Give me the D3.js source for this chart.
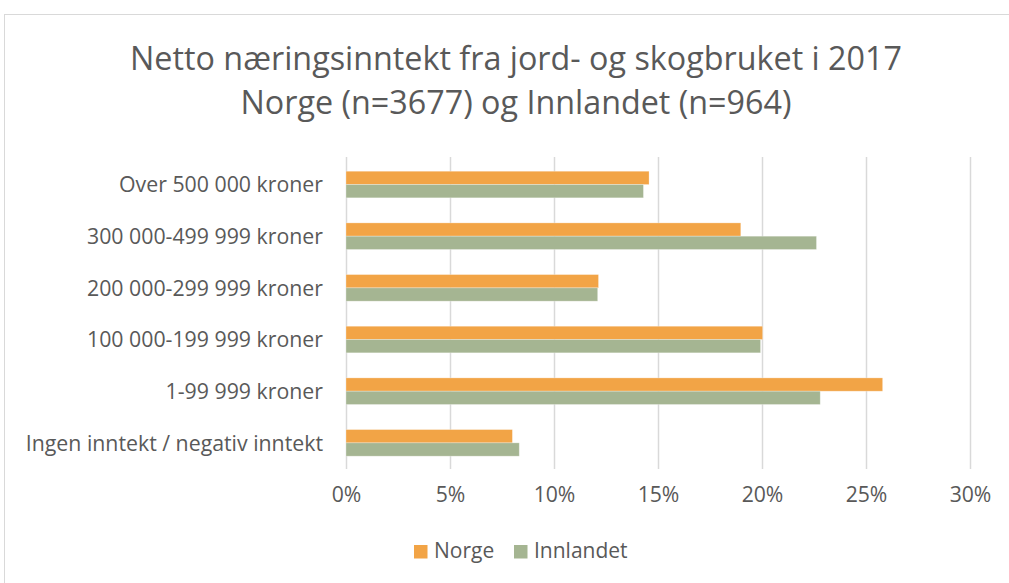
<!DOCTYPE html>
<html>
<head>
<meta charset="utf-8">
<script src="https://cdn.jsdelivr.net/npm/d3@7"></script>
<style>
  html, body { margin: 0; padding: 0; background: #fff; }
  svg { display: block; font-family: "Open Sans", sans-serif; }
</style>
</head>
<body>
<svg id="chart" width="1009" height="583"></svg>
<script>
const categories = [
  "Over 500 000 kroner",
  "300 000-499 999 kroner",
  "200 000-299 999 kroner",
  "100 000-199 999 kroner",
  "1-99 999 kroner",
  "Ingen inntekt / negativ inntekt"
];
const seriesNames = ["Norge", "Innlandet"];
const norge = [0.1457, 0.1898, 0.1214, 0.2003, 0.2580, 0.0800];
const innlandet = [0.1430, 0.2262, 0.1210, 0.1993, 0.2280, 0.0833];
const xTicks = [0, 0.05, 0.10, 0.15, 0.20, 0.25, 0.30];
const titleLines = [
  "Netto næringsinntekt fra jord- og skogbruket i 2017",
  "Norge (n=3677) og Innlandet (n=964)"
];
const colors = { "Norge": "#F2A446", "Innlandet": "#A5B592" };

const data = categories.map((c, i) => ({ cat: c, Norge: norge[i], Innlandet: innlandet[i] }));

const svg = d3.select("#chart");
const textColor = "#595959";

// chart border
svg.append("rect")
  .attr("x", 4.5).attr("y", 14.5)
  .attr("width", 1020).attr("height", 600)
  .attr("fill", "#fff").attr("stroke", "#D9D9D9").attr("stroke-width", 1);

// title
svg.append("g").selectAll("text").data(titleLines).join("text")
  .attr("x", 516).attr("y", (d, i) => 70 + i * 43.5)
  .attr("text-anchor", "middle")
  .attr("fill", textColor)
  .attr("font-size", 32.3)
  .text(d => d);

const x = d3.scaleLinear().domain([0, 0.30]).range([346, 970]);
const y0 = d3.scaleBand().domain(categories).range([158.7, 468.7])
  .paddingInner(0.485).paddingOuter(0.2425);
const y1 = d3.scaleBand().domain(seriesNames).range([0, y0.bandwidth()]);

// gridlines
svg.append("g").selectAll("line").data(xTicks).join("line")
  .attr("x1", d => Math.round(x(d)) + 0.5).attr("x2", d => Math.round(x(d)) + 0.5)
  .attr("y1", 157).attr("y2", 469)
  .attr("stroke", "#D9D9D9").attr("stroke-width", 1.5);

// x axis labels
const xAxis = d3.axisBottom(x).tickValues(xTicks).tickFormat(d3.format(".0%")).tickSize(0).tickPadding(0);
const gx = svg.append("g").attr("transform", "translate(0,487)").call(xAxis);
gx.select(".domain").remove();
gx.selectAll("text").attr("fill", textColor).attr("font-size", 21.2)
  .attr("font-family", "'Open Sans', sans-serif").attr("dy", "0.71em");

// y axis labels
const yAxis = d3.axisLeft(y0).tickSize(0).tickPadding(0);
const gy = svg.append("g").attr("transform", "translate(323,0)").call(yAxis);
gy.select(".domain").remove();
gy.selectAll("text").attr("fill", textColor).attr("font-size", 21.3)
  .attr("font-family", "'Open Sans', sans-serif").attr("dy", "0.36em");

// bars
const groups = svg.append("g").selectAll("g").data(data).join("g")
  .attr("transform", d => `translate(0,${y0(d.cat)})`);
groups.selectAll("rect").data(d => seriesNames.map(s => ({ s, v: d[s] }))).join("rect")
  .attr("x", x(0))
  .attr("y", d => y1(d.s))
  .attr("width", d => x(d.v) - x(0))
  .attr("height", y1.bandwidth())
  .attr("fill", d => colors[d.s])
  .attr("stroke", "#fff").attr("stroke-opacity", 0.35).attr("stroke-width", 0.8);

// legend
const legend = svg.append("g");
const legendItems = [{ s: "Norge", x: 414 }, { s: "Innlandet", x: 514 }];
const li = legend.selectAll("g").data(legendItems).join("g")
  .attr("transform", d => `translate(${d.x},545)`);
li.append("rect").attr("width", 13.5).attr("height", 13.5).attr("fill", d => colors[d.s]);
li.append("text").attr("x", 20).attr("y", 13.3)
  .attr("fill", textColor).attr("font-size", 21).text(d => d.s);
</script>
</body>
</html>
